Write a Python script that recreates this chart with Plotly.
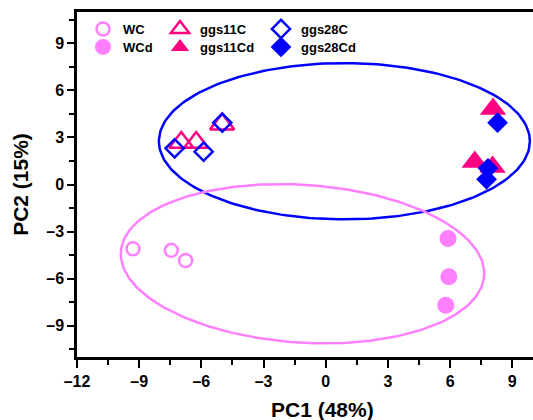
import numpy as np
import plotly.graph_objects as go

# ---- data ----
wc_x = [-9.3, -7.45, -6.76]
wc_y = [-4.1, -4.2, -4.85]
wcd_x = [5.9, 5.94, 5.79]
wcd_y = [-3.45, -5.88, -7.7]
g11c_x = [-6.97, -6.25, -5.0]
g11c_y = [2.68, 2.68, 3.85]
g11cd_x = [8.07, 7.19, 8.05]
g11cd_y = [4.82, 1.43, 1.12]
g28c_x = [-7.29, -5.89, -4.99]
g28c_y = [2.31, 2.09, 3.94]
g28cd_x = [8.29, 7.83, 7.76]
g28cd_y = [3.94, 1.03, 0.33]

# confidence ellipses: center x, center y, semi-major, semi-minor, angle (deg)
ell_blue = dict(cx=0.9, cy=2.76, a=8.95, b=4.98, ang=0.0)
ell_pink = dict(cx=-1.12, cy=-5.05, a=8.8, b=5.02, ang=-6.0)

xtick_vals = [-12, -9, -6, -3, 0, 3, 6, 9]
xtick_text = ["–12", "–9", "–6", "–3", "0", "3", "6", "9"]
ytick_vals = [-9, -6, -3, 0, 3, 6, 9]
ytick_text = ["–9", "–6", "–3", "0", "3", "6", "9"]

PINK = "#FF80FF"
RED = "#FF0080"
BLUE = "#0000FF"
FONT = "Liberation Sans, Arial, sans-serif"


def ellipse(p, n=240):
    t = np.linspace(0, 2 * np.pi, n)
    th = np.deg2rad(p["ang"])
    x = p["cx"] + p["a"] * np.cos(th) * np.cos(t) - p["b"] * np.sin(th) * np.sin(t)
    y = p["cy"] + p["a"] * np.sin(th) * np.cos(t) + p["b"] * np.cos(th) * np.sin(t)
    return x, y


fig = go.Figure()
bx, by = ellipse(ell_blue)
fig.add_trace(go.Scatter(x=bx, y=by, mode="lines", line=dict(color=BLUE, width=2.5),
                         showlegend=False, hoverinfo="skip"))
px_, py_ = ellipse(ell_pink)
fig.add_trace(go.Scatter(x=px_, y=py_, mode="lines", line=dict(color=PINK, width=2.5),
                         showlegend=False, hoverinfo="skip"))

series = [
    ("WC", wc_x, wc_y, "circle-open", PINK, 13, "legend"),
    ("WCd", wcd_x, wcd_y, "circle", PINK, 17, "legend4"),
    ("ggs11C", g11c_x, g11c_y, "triangle-up-open", RED, 21, "legend2"),
    ("ggs11Cd", g11cd_x, g11cd_y, "triangle-up", RED, 23, "legend5"),
    ("ggs28C", g28c_x, g28c_y, "diamond-open", BLUE, 14, "legend3"),
    ("ggs28Cd", g28cd_x, g28cd_y, "diamond", BLUE, 16, "legend6"),
]
for name, xs, ys, sym, col, size, lg in series:
    fig.add_trace(go.Scatter(
        x=xs, y=ys, mode="markers", name=name, legend=lg,
        marker=dict(symbol=sym, color=col, size=size,
                    line=dict(color=col, width=2.5 if "open" in sym else 0)),
    ))

# plot area in pixels: left 77, right 533, top 12, bottom 357
L, R, T, B = 77, 533, 12, 357
W, H = R - L, B - T


def px2paper(xp, yp):
    return (xp - L) / W, (B - yp) / H


legend_font = dict(family=FONT, size=13, color="black", weight="bold")
leg_cols = [103, 180, 281]
leg_rows = [29, 47]
legends = {}
keys = ["legend", "legend2", "legend3", "legend4", "legend5", "legend6"]
for i, k in enumerate(keys):
    r, c = divmod(i, 3)
    lx, ly = px2paper(leg_cols[c] - 20, leg_rows[r])
    legends[k] = dict(x=lx, y=ly, xanchor="left", yanchor="middle",
                      bgcolor="rgba(0,0,0,0)", borderwidth=0, font=legend_font,
                      itemwidth=30)

fig.update_layout(
    width=533, height=420,
    margin=dict(l=L, r=533 - R, t=T, b=420 - B),
    paper_bgcolor="white", plot_bgcolor="white",
    font=dict(family=FONT, color="black"),
    **legends,
)

fig.update_xaxes(
    range=[-12, 10], showgrid=False, zeroline=False,
    showline=True, linecolor="black", linewidth=2.5, mirror=True,
    ticks="outside", ticklen=8, tickwidth=2, tickcolor="black",
    tickvals=xtick_vals, ticktext=xtick_text,
    tickfont=dict(family=FONT, size=16, color="black", weight="bold"),
    minor=dict(tickmode="linear", tick0=0, dtick=1.5, ticks="outside",
               ticklen=5, tickwidth=2, tickcolor="black"),
)
fig.update_yaxes(
    range=[-11, 11], showgrid=False, zeroline=False,
    showline=True, linecolor="black", linewidth=2.5, mirror=False,
    ticks="outside", ticklen=7, tickwidth=2, tickcolor="black",
    tickvals=ytick_vals, ticktext=ytick_text,
    tickfont=dict(family=FONT, size=16, color="black", weight="bold"),
    minor=dict(tickmode="linear", tick0=0, dtick=1.5, ticks="outside",
               ticklen=5, tickwidth=2, tickcolor="black"),
    title=dict(text="PC2 (15%)", standoff=12,
               font=dict(family=FONT, size=21, color="black", weight="bold")),
)

tx, ty = px2paper(322, 409)
fig.add_annotation(text="PC1 (48%)", x=tx, y=ty, xref="paper", yref="paper",
                   xanchor="center", yanchor="middle", showarrow=False,
                   font=dict(family=FONT, size=21, color="black", weight="bold"))

fig.write_html("out.html",
               config={"displayModeBar": False},
               post_script="document.body.style.margin='0px';document.body.style.overflow='hidden';")
